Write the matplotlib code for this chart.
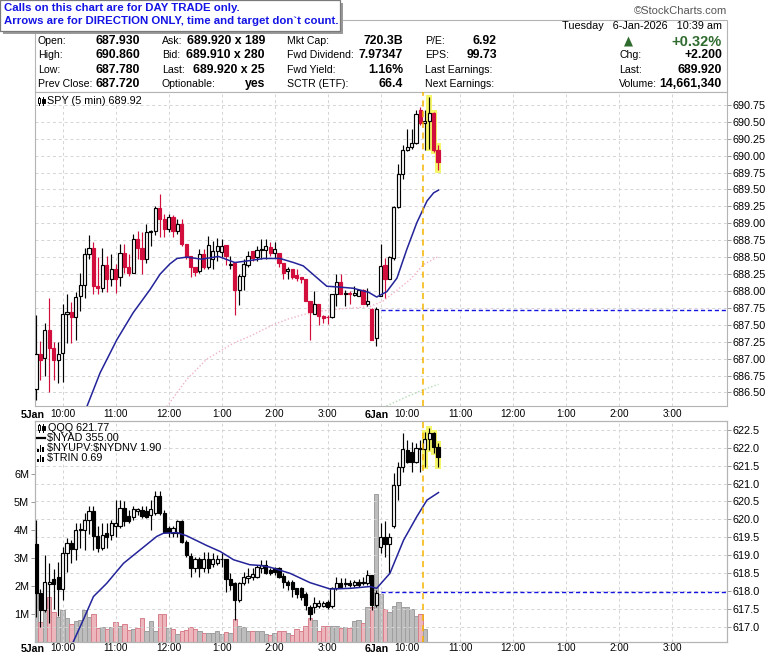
import matplotlib.pyplot as plt
from matplotlib.patches import Rectangle, Polygon
from matplotlib.lines import Line2D

plt.rcParams['font.family'] = ['Liberation Sans', 'DejaVu Sans']

# 5-min bars: slot 0 = 5-Jan 9:30, slot 78 = 6-Jan 9:30, last bar 6-Jan 10:35
spy_open = [686.55, 687.07, 687.01, 687.42, 687.15, 686.98, 687.08, 687.66, 687.69, 687.62,
            687.93, 688.09, 688.54, 688.64, 688.08, 688.05, 688.38, 688.18, 688.33, 688.21,
            688.56, 688.36, 688.27, 688.77, 688.64, 688.47, 688.87, 688.88, 689.22, 689.07,
            688.91, 689.09, 688.88, 688.99, 688.69, 688.52, 688.36, 688.30, 688.54, 688.36,
            688.47, 688.59, 688.58, 688.68, 688.38, 688.42, 688.02, 688.22, 688.39, 688.59,
            688.50, 688.61, 688.61, 688.65, 688.56, 688.56, 688.42, 688.29, 688.32, 688.23,
            688.21, 688.18, 687.85, 687.66, 687.80, 687.63, 687.62, 687.61, 687.96, 688.13,
            687.96, 687.97, 687.94, 687.93, 688.02, 687.81, 687.74, 687.31, 687.93, 688.39,
            688.18, 688.49, 689.24, 689.73, 690.08, 690.12, 690.19, 690.68, 690.48, 690.51,
            690.63, 690.09]
spy_high = [687.65, 687.26, 687.53, 687.90, 687.25, 687.24, 687.80, 687.96, 687.83, 687.98,
            688.26, 688.64, 688.83, 688.72, 688.50, 688.64, 688.52, 688.54, 688.40, 688.69,
            688.69, 688.54, 688.84, 688.89, 688.87, 688.99, 688.90, 689.26, 689.44, 689.14,
            689.14, 689.12, 689.06, 689.06, 688.69, 688.52, 688.36, 688.62, 688.62, 688.81,
            688.74, 688.78, 688.77, 688.68, 688.51, 688.42, 688.25, 688.47, 688.59, 688.59,
            688.67, 688.77, 688.77, 688.72, 688.72, 688.56, 688.42, 688.35, 688.32, 688.33,
            688.21, 688.18, 687.85, 688.00, 687.81, 687.65, 687.64, 687.96, 688.25, 688.25,
            688.02, 688.00, 688.08, 688.02, 688.03, 688.05, 687.75, 687.77, 688.69, 688.49,
            688.51, 689.25, 689.87, 690.15, 690.39, 690.39, 690.68, 690.72, 690.68, 690.86,
            690.65, 690.15]
spy_low = [686.39, 686.69, 686.74, 686.51, 686.69, 686.64, 686.65, 687.23, 687.23, 687.28,
           687.70, 687.90, 688.47, 687.95, 687.95, 687.98, 687.98, 688.07, 687.97, 688.07,
           688.27, 688.22, 688.27, 688.47, 688.25, 688.42, 688.67, 688.82, 688.79, 688.79,
           688.87, 688.79, 688.84, 688.67, 688.47, 688.21, 688.22, 688.26, 688.32, 688.32,
           688.32, 688.44, 688.50, 688.39, 688.33, 687.65, 687.79, 688.02, 688.36, 688.44,
           688.44, 688.47, 688.47, 688.51, 688.49, 688.36, 688.17, 688.17, 688.17, 688.15,
           688.12, 687.85, 687.28, 687.66, 687.50, 687.52, 687.51, 687.60, 687.78, 687.95,
           687.78, 687.80, 687.93, 687.92, 687.80, 687.78, 687.27, 687.18, 687.92, 687.89,
           688.17, 688.46, 689.23, 689.65, 690.07, 690.10, 690.17, 690.45, 690.09, 690.10,
           690.05, 689.78]
spy_close = [687.07, 686.98, 687.42, 687.15, 686.98, 687.07, 687.66, 687.69, 687.62, 687.91,
             688.09, 688.54, 688.64, 688.07, 688.05, 688.38, 688.18, 688.33, 688.18, 688.56,
             688.36, 688.27, 688.77, 688.64, 688.47, 688.87, 688.88, 689.22, 689.07, 688.91,
             689.09, 688.88, 688.99, 688.69, 688.50, 688.36, 688.28, 688.54, 688.35, 688.68,
             688.59, 688.66, 688.66, 688.52, 688.40, 688.02, 688.22, 688.40, 688.52, 688.49,
             688.61, 688.62, 688.66, 688.56, 688.62, 688.42, 688.27, 688.32, 688.21, 688.19,
             688.18, 687.85, 687.69, 687.80, 687.63, 687.60, 687.61, 687.96, 688.13, 687.96,
             687.97, 687.95, 687.97, 688.02, 687.81, 687.85, 687.28, 687.73, 688.37, 688.18,
             688.50, 689.24, 689.73, 690.08, 690.12, 690.19, 690.62, 690.48, 690.51, 690.63,
             690.09, 689.90]

qqq_open = [619.31, 617.95, 617.47, 618.18, 618.33, 618.40, 618.05, 619.05, 619.35, 619.16,
            619.69, 619.70, 619.98, 620.22, 619.54, 619.19, 619.61, 619.56, 619.80, 619.80,
            620.31, 620.08, 620.06, 620.22, 620.26, 620.22, 620.12, 620.17, 620.64, 620.17,
            619.77, 619.63, 619.61, 619.94, 619.38, 618.98, 618.63, 618.88, 618.63, 618.88,
            618.75, 618.78, 618.88, 618.88, 618.33, 618.23, 617.73, 618.23, 618.36, 618.40,
            618.40, 618.65, 618.71, 618.59, 618.63, 618.63, 618.42, 618.26, 618.26, 618.07,
            618.07, 617.91, 617.54, 617.54, 617.58, 617.58, 617.70, 617.58, 618.07, 618.23,
            618.19, 618.23, 618.17, 618.26, 618.21, 618.21, 618.45, 617.61, 619.24, 619.52,
            619.31, 619.80, 620.96, 621.47, 621.94, 621.89, 621.61, 621.96, 621.96, 622.24,
            622.41, 622.03]
qqq_high = [619.98, 618.05, 619.00, 618.77, 618.60, 618.82, 619.24, 619.47, 619.42, 619.89,
            619.89, 620.17, 620.36, 620.36, 619.80, 619.89, 619.89, 619.97, 620.54, 620.54,
            620.50, 620.26, 620.36, 620.31, 620.36, 620.36, 620.54, 620.78, 620.78, 620.26,
            619.80, 619.80, 619.98, 619.98, 619.42, 619.05, 618.96, 618.96, 619.10, 619.10,
            619.05, 619.00, 619.05, 618.90, 618.49, 618.24, 618.26, 618.54, 618.63, 618.63,
            618.73, 618.87, 618.85, 618.65, 618.68, 618.68, 618.49, 618.31, 618.31, 618.07,
            618.12, 617.98, 617.61, 617.84, 617.75, 617.72, 617.75, 618.12, 618.40, 618.35,
            618.35, 618.30, 618.31, 618.33, 618.40, 618.59, 618.45, 618.03, 619.89, 619.94,
            619.61, 621.29, 621.61, 622.41, 622.22, 622.17, 622.13, 622.22, 622.45, 622.55,
            622.45, 622.13]
qqq_low = [617.28, 617.00, 617.40, 617.10, 617.50, 617.29, 617.75, 618.54, 618.77, 618.87,
           619.19, 619.15, 619.60, 619.15, 619.10, 619.15, 619.19, 619.42, 619.52, 619.75,
           619.80, 619.89, 619.98, 620.12, 620.03, 620.03, 619.70, 620.12, 620.12, 619.61,
           619.52, 619.52, 619.52, 619.33, 618.96, 618.40, 618.54, 618.40, 618.54, 618.49,
           618.68, 618.72, 618.68, 617.98, 618.03, 617.19, 617.70, 618.17, 618.21, 618.31,
           618.36, 618.49, 618.47, 618.45, 618.45, 618.35, 618.07, 618.03, 617.84, 617.79,
           617.75, 617.47, 617.19, 617.37, 617.51, 617.54, 617.49, 617.51, 618.03, 618.07,
           618.12, 618.12, 618.12, 618.12, 618.17, 618.16, 617.47, 617.56, 619.05, 618.96,
           618.49, 619.75, 620.54, 621.33, 621.57, 621.33, 621.57, 621.33, 621.47, 621.94,
           621.85, 621.47]
qqq_close = [617.95, 617.47, 618.26, 618.26, 618.18, 618.05, 619.05, 619.33, 619.16, 619.70,
             619.72, 619.98, 620.22, 619.54, 619.19, 619.56, 619.52, 619.89, 619.91, 620.31,
             619.94, 619.94, 620.28, 620.28, 620.08, 620.06, 620.28, 620.64, 620.17, 619.66,
             619.66, 619.77, 619.94, 619.38, 618.99, 618.63, 618.88, 618.63, 618.88, 618.63,
             618.88, 618.88, 618.90, 618.33, 618.17, 617.73, 618.23, 618.40, 618.42, 618.47,
             618.68, 618.71, 618.51, 618.51, 618.54, 618.40, 618.26, 618.17, 618.05, 617.91,
             617.84, 617.61, 617.35, 617.67, 617.67, 617.67, 617.56, 618.07, 618.23, 618.12,
             618.23, 618.17, 618.26, 618.17, 618.26, 618.45, 617.61, 617.95, 619.52, 619.31,
             619.52, 620.96, 621.47, 621.96, 621.61, 621.61, 621.99, 621.99, 622.24, 622.41,
             622.03, 621.75]

# SPY volume in millions (bars shown up to 6-Jan 10:10)
volume_m = [2.96, 0.70, 1.42, 1.60, 1.06, 0.88, 1.14, 0.85, 0.64, 0.74,
            0.79, 1.14, 0.90, 0.98, 0.50, 0.52, 0.44, 0.52, 0.70, 0.56,
            0.64, 0.43, 0.46, 0.50, 0.85, 0.38, 0.73, 0.38, 1.00, 1.00,
            0.50, 0.44, 0.26, 0.38, 0.43, 0.52, 0.46, 0.37, 0.32, 0.31,
            0.31, 0.38, 0.26, 0.35, 0.32, 0.82, 0.56, 0.52, 0.38, 0.37,
            0.40, 0.40, 0.29, 0.23, 0.31, 0.38, 0.40, 0.32, 0.25, 0.46,
            0.38, 0.55, 0.86, 0.79, 0.38, 0.56, 0.56, 0.56, 0.56, 0.50,
            0.52, 0.50, 0.74, 0.79, 0.67, 1.26, 1.26, 5.31, 1.71, 1.18,
            1.06, 1.27, 1.42, 1.26, 1.26, 1.18, 0.94, 1.00, 0.46]

# moving averages (slot, value)
spy_ma_slot = [11.5, 14.5, 18.3, 22.0, 25.8, 28.1, 30.3, 31.9, 34.1, 37.5, 41.3, 45.0,
               48.5, 51.5, 55.2, 58.3, 60.5, 63.5, 65.8, 68.1, 71.8, 75.3, 77.1, 79.4,
               81.7, 83.9, 86.2, 88.5, 90.0, 91.1]
spy_ma_val = [686.29, 686.79, 687.28, 687.68, 688.02, 688.25, 688.40, 688.48, 688.50, 688.47,
              688.51, 688.42, 688.45, 688.48, 688.48, 688.42, 688.37, 688.20, 688.07, 688.06,
              688.04, 687.98, 687.91, 687.99, 688.19, 688.61, 689.01, 689.33, 689.45, 689.49]
spy_ma2_slot = [29.6, 34.1, 38.6, 44.7, 48.4, 53.0, 56.8, 60.5, 64.0, 68.1, 72.0, 75.6,
                78.5, 80.9, 84.7, 87.7, 91.1]
spy_ma2_val = [686.29, 686.69, 686.99, 687.23, 687.33, 687.48, 687.58, 687.65, 687.70, 687.73,
               687.75, 687.77, 687.85, 687.97, 688.17, 688.39, 688.51]
spy_ma3_slot = [78.6, 84.7, 88.5, 91.1]
spy_ma3_val = [686.28, 686.46, 686.56, 686.62]
qqq_ma_slot = [8.3, 10.7, 13.0, 16.0, 19.8, 23.5, 27.3, 28.8, 31.9, 34.1, 38.6, 41.7,
               44.7, 48.4, 50.7, 53.0, 57.5, 62.0, 66.6, 71.1, 75.6, 77.1, 80.1, 83.2,
               86.2, 88.5, 91.1]
qqq_ma_val = [616.54, 617.19, 617.84, 618.21, 618.77, 619.14, 619.52, 619.61, 619.63, 619.54,
              619.27, 619.10, 618.87, 618.73, 618.71, 618.66, 618.49, 618.23, 618.05, 618.07,
              618.12, 618.07, 618.49, 619.42, 620.08, 620.54, 620.75]

spy_prev_close = 687.72
qqq_prev_close = 617.98
signal_slot = 87.5
spy_marked = [89, 90, 91]
qqq_marked = [88, 89, 90, 91]

hour_labels = ['10:00', '11:00', '12:00', '1:00', '2:00', '3:00']
day_labels = ['5Jan', '6Jan']
bars_per_day = 78
bars_per_hour = 12

header_cols = [
    (38, 140, ['Open:', 'High:', 'Low:', 'Prev Close:'], ['687.930', '690.860', '687.780', '687.720']),
    (162, 265, ['Ask:', 'Bid:', 'Last:', 'Optionable:'], ['689.920 x 189', '689.910 x 280', '689.920 x 25', 'yes']),
    (287, 403, ['Mkt Cap:', 'Fwd Dividend:', 'Fwd Yield:', 'SCTR (ETF):'], ['720.3B', '7.97347', '1.16%', '66.4']),
    (425, 497, ['P/E:', 'EPS:', 'Last Earnings:', 'Next Earnings:'], ['6.92', '99.73', '', '']),
    (619, 722, ['', 'Chg:', 'Last:', 'Volume:'], ['', '+2.200', '689.920', '14,661,340']),
]
header_rows = [41.5, 55.5, 70, 84]

W, H = 780, 659
fig = plt.figure(figsize=(W / 100, H / 100), dpi=100)


def fx(x):
    return x / W


def fy(y):
    return 1 - y / H


def ftext(x, y, s, **kw):
    kw.setdefault('va', 'center')
    fig.text(fx(x), fy(y), s, **kw)


def prect(x0, y0, x1, y1, **kw):
    fig.add_artist(Rectangle((fx(x0), fy(y1)), (x1 - x0) / W, (y1 - y0) / H,
                             transform=fig.transFigure, **kw))


def pline(xs, ys, **kw):
    fig.add_artist(Line2D([fx(x) for x in xs], [fy(y) for y in ys],
                          transform=fig.transFigure, **kw))


def draw_candles(ax, o, h, l, c, down_color, width=0.72):
    for i in range(len(o)):
        up = c[i] >= o[i]
        col = 'black' if up else down_color
        ax.vlines(i, l[i], h[i], color=col, lw=0.85, zorder=3)
        lo, hi = min(o[i], c[i]), max(o[i], c[i])
        ax.add_patch(Rectangle((i - width / 2, lo), width, hi - lo,
                               facecolor='white' if up else down_color,
                               edgecolor=col, lw=0.85, zorder=4))


def mark_bars(ax, idx, h, l, pad):
    for i in idx:
        ax.add_patch(Rectangle((i - 0.7, l[i] - pad), 1.4, h[i] - l[i] + 2 * pad,
                               facecolor='#f6f66a', edgecolor='none', zorder=2))


hour_slots = [d * bars_per_day + 6 + k * bars_per_hour for d in range(2) for k in range(6)]
grid_slots = [s for s in hour_slots if s != bars_per_day + 6] + [bars_per_day]


def style_panel(ax, ylo, yhi, grid_vals, xpad, label_ax):
    ax.set_xlim(-0.3, 156.4)
    ax.set_ylim(ylo, yhi)
    for sp in ax.spines.values():
        sp.set_color('#b4b4b4')
    for g in grid_vals:
        ax.axhline(g, color='#d4d4d4', lw=0.7, ls=(0, (3, 3)), zorder=0.5)
    for s in grid_slots:
        ax.axvline(s, color='#d4d4d4', lw=0.7, ls=(0, (3, 3)), zorder=0.5)
    ax.yaxis.tick_right()
    ax.set_yticks(grid_vals)
    ax.tick_params(axis='y', direction='out', length=3, width=0.7, color='#999999',
                   labelsize=7.8, pad=1)
    ax.set_xticks(hour_slots)
    ax.set_xticklabels(hour_labels * 2)
    label_ax.tick_params(axis='x', length=0, labelsize=7.2, pad=xpad)
    for d, lab in enumerate(day_labels):
        ax.annotate(lab, xy=(d * bars_per_day + 6, 0), xycoords=ax.get_xaxis_transform(),
                    xytext=(-13, -xpad - 4.3), textcoords='offset points',
                    ha='right', va='center', fontsize=7.6, fontweight='bold')
    ax.axvline(signal_slot, color='#f5b400', lw=1.1, ls=(0, (4, 3)), zorder=6)


# ---- top panel: SPY
ax1 = fig.add_axes([fx(34.7), fy(406), (727 - 34.7) / W, (406 - 92) / H])
spy_grid = [686.5 + 0.25 * k for k in range(18)]
style_panel(ax1, 686.30, 690.94, spy_grid, 2.2, ax1)
ax1.set_yticklabels([f'{v:.2f}' for v in spy_grid])
mark_bars(ax1, spy_marked, spy_high, spy_low, 0.03)
ax1.plot(spy_ma2_slot, spy_ma2_val, color='#f0b4c4', lw=1, ls=(0, (1, 1.5)), zorder=2.5)
ax1.plot(spy_ma3_slot, spy_ma3_val, color='#b4dcb4', lw=1, ls=(0, (1, 1.5)), zorder=2.5)
ax1.plot(spy_ma_slot, spy_ma_val, color='#23239a', lw=1.1, zorder=5)
draw_candles(ax1, spy_open, spy_high, spy_low, spy_close, '#d20f3c')
ax1.hlines(spy_prev_close, bars_per_day, 157, color='#1414e0', lw=1, ls=(0, (3, 2)), zorder=5)

# ---- bottom panel: QQQ with SPY volume
ax2v = fig.add_axes([fx(34.7), fy(642.3), (727 - 34.7) / W, (642.3 - 420.7) / H])
ax2v.set_xlim(-0.3, 156.4)
ax2v.set_ylim(-0.02, 7.92)
vcols = ['#bdbdbd' if spy_close[i] >= spy_open[i] else '#ecb6bc' for i in range(len(volume_m))]
vedges = ['#9e9e9e' if spy_close[i] >= spy_open[i] else '#d8808b' for i in range(len(volume_m))]
ax2v.bar(range(len(volume_m)), volume_m, width=1.0, color=vcols, edgecolor=vedges, lw=0.7)
ax2v.set_yticks([1, 2, 3, 4, 5, 6])
ax2v.set_yticklabels([f'{v}M' for v in range(1, 7)])
ax2v.tick_params(axis='y', direction='out', length=3, width=0.7, color='#999999',
                 labelsize=7.8, pad=1)
for sp in ax2v.spines.values():
    sp.set_color('#b4b4b4')

ax2 = ax2v.twinx()
ax2.patch.set_visible(False)
qqq_grid = [617.0 + 0.5 * k for k in range(12)]
style_panel(ax2, 616.56, 622.76, qqq_grid, 0.4, ax2v)
ax2.set_yticklabels([f'{v:.1f}' for v in qqq_grid])
mark_bars(ax2, qqq_marked, qqq_high, qqq_low, 0.055)
ax2.plot(qqq_ma_slot, qqq_ma_val, color='#23239a', lw=1.1, zorder=5)
draw_candles(ax2, qqq_open, qqq_high, qqq_low, qqq_close, 'black')
ax2.hlines(qqq_prev_close, bars_per_day, 157, color='#1414e0', lw=1, ls=(0, (3, 2)), zorder=5)

# ---- header table
prect(34.7, 19.5, 727, 92, facecolor='white', edgecolor='#b4b4b4', lw=0.8, zorder=0)
for lx, vx, labels, values in header_cols:
    for y, lab, val in zip(header_rows, labels, values):
        if lab:
            ftext(lx, y, lab, fontsize=7.6)
        if val:
            ftext(vx, y, val, fontsize=8.8, fontweight='bold', ha='right')
ftext(722, 26, 'Tuesday   6-Jan-2026   10:39 am', fontsize=7.8, ha='right')
ftext(722, 41.5, '+0.32%', fontsize=10.5, fontweight='bold', ha='right', color='#2f6b2f')
fig.add_artist(Polygon([(fx(624), fy(46.5)), (fx(633), fy(46.5)), (fx(628.5), fy(36.5))],
                       closed=True, transform=fig.transFigure, facecolor='#2f6b2f',
                       edgecolor='none'))
ftext(727, 11.5, '\u00a9StockCharts.com', fontsize=8, ha='right', color='#555555')

# ---- panel legends
prect(37.5, 98, 40, 102.5, facecolor='white', edgecolor='black', lw=0.7, zorder=5)
prect(42, 99, 44.5, 103, facecolor='black', edgecolor='black', lw=0.7, zorder=5)
pline([38.75, 38.75], [96.5, 104.5], color='black', lw=0.7)
pline([43.25, 43.25], [97, 105], color='black', lw=0.7)
ftext(47, 100.5, 'SPY (5 min) 689.92', fontsize=7.8)

prect(37.5, 425, 40, 429.5, facecolor='white', edgecolor='black', lw=0.7, zorder=5)
prect(42, 426, 44.5, 430, facecolor='black', edgecolor='black', lw=0.7, zorder=5)
pline([38.75, 38.75], [423.5, 431.5], color='black', lw=0.7)
pline([43.25, 43.25], [424, 432], color='black', lw=0.7)
ftext(48, 428, 'QQQ 621.77', fontsize=7.8)
pline([37, 45], [438, 438], color='black', lw=1.6)
ftext(47, 438, '\\$NYAD 355.00', fontsize=7.8)
for yy in (448, 458):
    for bx, bh in ((38, 3), (40.5, 7), (43, 5)):
        prect(bx - 0.8, yy + 3.5 - bh, bx + 0.8, yy + 3.5, facecolor='black', edgecolor='none', zorder=5)
ftext(47, 448, '\\$NYUPV:\\$NYDNV 1.90', fontsize=7.8)
ftext(47, 458, '\\$TRIN 0.69', fontsize=7.8)

# ---- banner
prect(3, 3, 343, 34, facecolor='#9a9a9a', edgecolor='none', zorder=8)
prect(0, 0, 340, 31, facecolor='white', edgecolor='#7a7a7a', lw=0.9, zorder=9)
ftext(4, 8, 'Calls on this chart are for DAY TRADE only.', fontsize=8.2,
      fontweight='bold', color='#1414e6', zorder=10)
ftext(4, 21.5, 'Arrows are for DIRECTION ONLY, time and target don`t count.', fontsize=8.2,
      fontweight='bold', color='#1414e6', zorder=10)

fig.savefig('out.png', dpi=100)
